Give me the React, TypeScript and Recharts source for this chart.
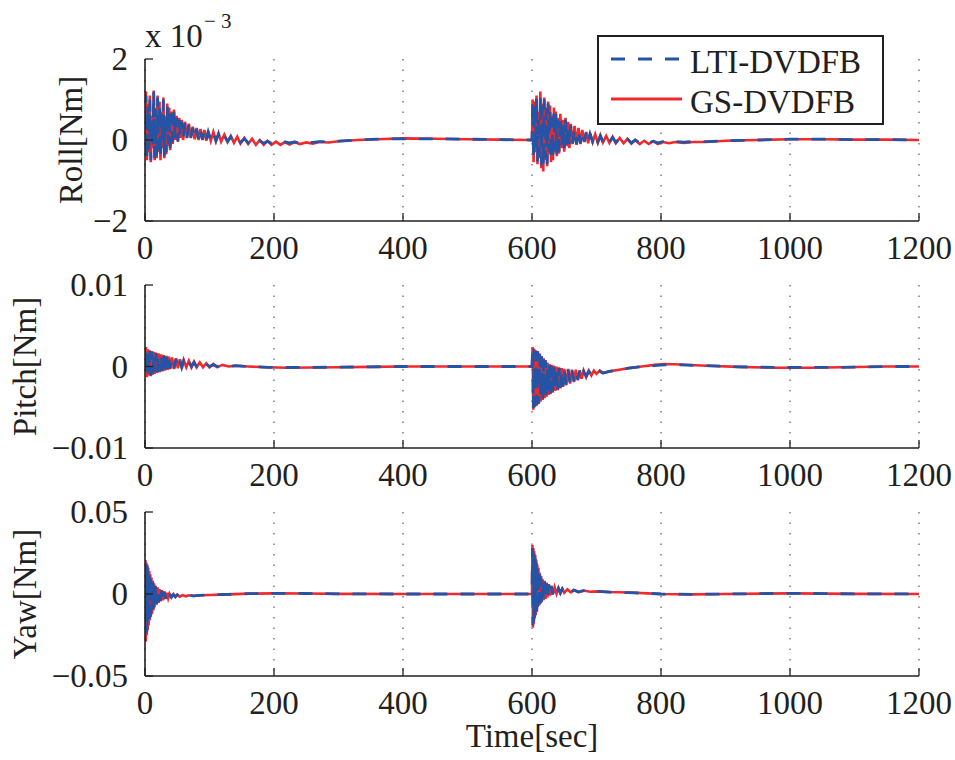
import React from 'react';
import { LineChart, Line, XAxis, YAxis, CartesianGrid, Legend } from 'recharts';

// ---------- data ----------
const seriesNames = ['LTI-DVDFB', 'GS-DVDFB'];
const timeTicks = [0, 200, 400, 600, 800, 1000, 1200];
const timeTickLabels = ['0', '200', '400', '600', '800', '1000', '1200'];

const rollTicks = [-2, 0, 2];
const rollTickLabels = ['\u22122', '0', '2'];
const pitchTicks = [-0.01, 0, 0.01];
const pitchTickLabels = ['\u22120.01', '0', '0.01'];
const yawTicks = [-0.05, 0, 0.05];
const yawTickLabels = ['\u22120.05', '0', '0.05'];

// Roll torque, units of 1e-3 Nm
const rollTime = [
  0, 1.5, 3, 4.5, 6, 7.5, 9, 10.5, 12, 13.5,
  15, 16.5, 18, 19.5, 21, 22.5, 24, 25.5, 27, 28.5,
  30, 31.5, 33, 34.5, 36, 37.5, 39, 41, 43, 45,
  47, 49, 51, 53, 55, 57, 59, 62, 65, 68,
  71, 74, 77, 80, 83, 86, 89, 92, 95, 98,
  102, 106, 110, 114, 118, 123, 128, 133, 138, 143,
  148, 154, 160, 166, 172, 178, 184, 190, 196, 203,
  210, 217, 224, 232, 240, 250, 260, 270, 285, 300,
  330, 360, 400, 450, 500, 550, 598,
  600, 601, 602.5, 604, 605.5, 607, 608.5, 610, 611.5, 613,
  614.5, 616, 617.5, 619, 620.5, 622, 623.5, 625, 626.5, 628,
  629.5, 631, 632.5, 634, 635.5, 637, 638.5, 640, 642, 644,
  646, 648, 650, 652, 654, 656, 658, 660, 663, 666,
  669, 672, 675, 678, 681, 684, 687, 690, 694, 698,
  702, 706, 710, 715, 720, 725, 730, 736, 742, 748,
  754, 760, 767, 774, 781, 788, 795, 803, 812, 822,
  835, 850, 870, 900, 950, 1000, 1050, 1100, 1150, 1200,
];
const rollGS = [
  0.3, 1.2, -0.5, 0.9, -0.3, 1.1, -0.55, 0.6, -0.2, 1.22,
  -0.5, 0.8, -0.45, 1.1, -0.3, 0.95, -0.5, 0.7, -0.2, 1.05,
  -0.45, 0.6, -0.35, 0.9, -0.15, 0.8, -0.25, 0.7, -0.1, 0.75,
  0.0, 0.6, -0.05, 0.55, 0.05, 0.5, 0.0, 0.45, 0.05, 0.4,
  0.05, 0.33, 0.02, 0.3, 0.0, 0.27, 0.0, 0.25, -0.02, 0.22,
  -0.02, 0.2, -0.03, 0.17, -0.04, 0.13, -0.05, 0.1, -0.07, 0.08,
  -0.09, 0.05, -0.1, 0.03, -0.12, 0.0, -0.12, -0.02, -0.12, -0.04,
  -0.12, -0.05, -0.11, -0.05, -0.1, -0.06, -0.09, -0.05, -0.06, -0.03,
  0.0, 0.02, 0.04, 0.03, 0.02, 0.01, 0.0,
  0.0, 1.0, -0.55, 0.95, -0.3, 1.1, -0.6, 0.7, -0.45, 1.2,
  -0.7, 0.9, -0.78, 1.05, -0.5, 0.8, -0.65, 0.95, -0.35, 0.85,
  -0.55, 0.6, -0.5, 0.8, -0.3, 0.7, -0.4, 0.55, -0.33, 0.65,
  -0.2, 0.5, -0.29, 0.55, -0.15, 0.45, -0.2, 0.4, -0.1, 0.35,
  -0.12, 0.3, -0.1, 0.25, -0.05, 0.2, -0.08, 0.17, -0.05, 0.14,
  -0.07, 0.12, -0.06, 0.1, -0.07, 0.08, -0.08, 0.05, -0.08, 0.03,
  -0.09, 0.0, -0.1, -0.02, -0.1, -0.03, -0.1, -0.05, -0.08, -0.05,
  -0.07, -0.05, -0.05, -0.02, 0.0, 0.02, 0.02, 0.01, 0.01, 0.0,
];
const rollLTI = [
  0.25, 1.1, -0.45, 0.85, -0.25, 1.0, -0.5, 0.55, -0.15, 1.2,
  -0.45, 0.75, -0.4, 1.05, -0.25, 0.9, -0.45, 0.65, -0.15, 1.0,
  -0.4, 0.55, -0.3, 0.85, -0.1, 0.75, -0.2, 0.65, -0.05, 0.7,
  0.02, 0.55, -0.02, 0.5, 0.06, 0.45, 0.02, 0.42, 0.06, 0.38,
  0.06, 0.3, 0.03, 0.27, 0.01, 0.25, 0.01, 0.22, -0.01, 0.2,
  -0.01, 0.17, -0.02, 0.14, -0.03, 0.1, -0.04, 0.08, -0.05, 0.06,
  -0.06, 0.03, -0.07, 0.01, -0.08, -0.02, -0.08, -0.03, -0.08, -0.05,
  -0.08, -0.05, -0.07, -0.05, -0.07, -0.05, -0.06, -0.04, -0.04, -0.03,
  0.0, 0.02, 0.03, 0.03, 0.02, 0.01, 0.0,
  0.0, 0.95, -0.5, 0.9, -0.25, 1.05, -0.55, 0.65, -0.4, 1.1,
  -0.62, 0.85, -0.66, 1.0, -0.45, 0.75, -0.6, 0.9, -0.3, 0.8,
  -0.5, 0.55, -0.45, 0.75, -0.25, 0.65, -0.35, 0.5, -0.28, 0.6,
  -0.17, 0.45, -0.25, 0.5, -0.12, 0.4, -0.17, 0.36, -0.08, 0.3,
  -0.1, 0.26, -0.08, 0.22, -0.04, 0.18, -0.06, 0.15, -0.04, 0.12,
  -0.05, 0.1, -0.05, 0.08, -0.05, 0.06, -0.06, 0.04, -0.06, 0.02,
  -0.07, 0.0, -0.07, -0.02, -0.07, -0.03, -0.07, -0.04, -0.06, -0.04,
  -0.05, -0.04, -0.04, -0.02, 0.0, 0.02, 0.02, 0.01, 0.01, 0.0,
];

// Pitch torque, Nm
const pitchTime = [
  0, 1.5, 3, 4.5, 6, 7.5, 9, 10.5, 12, 13.5,
  15, 17, 19, 21, 23, 25, 27, 29, 31, 33,
  35, 37, 39, 42, 45, 48, 51, 54, 57, 60,
  64, 68, 72, 76, 80, 85, 90, 95, 100, 106,
  112, 120, 130, 140, 160, 190, 220, 260, 300, 350,
  400, 500, 599,
  600, 601, 602, 603, 604.5, 606, 607.5, 609, 610.5, 612,
  613.5, 615, 616.5, 618, 619.5, 621, 622.5, 624, 625.5, 627,
  628.5, 630, 632, 634, 636, 638, 640, 642, 644, 646,
  648, 650, 653, 656, 659, 662, 665, 668, 671, 674,
  677, 680, 684, 688, 692, 696, 700, 705, 710, 720,
  735, 750, 770, 790, 805, 830, 870, 920, 980, 1030,
  1080, 1150, 1200,
];
const pitchGS = [
  0.0, 0.0024, -0.0013, 0.0021, -0.0011, 0.002, -0.0012, 0.0019, -0.001, 0.0018,
  -0.0009, 0.0017, -0.0008, 0.0016, -0.0007, 0.0015, -0.0006, 0.0014, -0.0005, 0.0013,
  -0.0004, 0.0012, -0.0003, 0.0011, -0.0003, 0.001, -0.0002, 0.0009, -0.0002, 0.0008,
  -0.0001, 0.0007, -0.0001, 0.0006, -0.0001, 0.0005, -0.0001, 0.0004, -0.0001, 0.0003,
  -0.0001, 0.0002, 0.0, 0.0001, 0.0, -0.0001, -0.00015, -0.00012, -0.0001, -0.00005,
  0.0, 0.0, 0.0,
  0.0, 0.0024, -0.0053, 0.0022, -0.005, 0.002, -0.0048, 0.0019, -0.0046, 0.0016,
  -0.0043, 0.0013, -0.0041, 0.001, -0.0039, 0.0008, -0.0037, 0.0005, -0.0035, 0.0003,
  -0.0034, 0.0002, -0.0032, 0.0001, -0.003, 0.0, -0.0029, -0.0001, -0.0027, -0.0002,
  -0.0025, -0.0003, -0.0023, -0.0003, -0.0021, -0.0004, -0.0019, -0.0004, -0.0017, -0.0005,
  -0.0015, -0.0005, -0.0013, -0.0005, -0.0011, -0.0005, -0.0009, -0.0005, -0.0008, -0.0006,
  -0.0004, -0.0002, 0.0, 0.0002, 0.0003, 0.00025, 0.0001, -0.00005, -0.00015, -0.00015,
  -0.0001, 0.0, 0.0,
];
const pitchLTI = [
  0.0, 0.0022, -0.0012, 0.002, -0.001, 0.0019, -0.0011, 0.0018, -0.0009, 0.0017,
  -0.0008, 0.0016, -0.0007, 0.0015, -0.0006, 0.0014, -0.0005, 0.0013, -0.0004, 0.0012,
  -0.0003, 0.0011, -0.0002, 0.001, -0.0002, 0.0009, -0.0001, 0.0008, -0.0001, 0.0007,
  0.0, 0.0006, 0.0, 0.0005, 0.0, 0.0004, 0.0, 0.0003, 0.0, 0.0002,
  0.0, 0.0001, 0.0, 0.0001, 0.0, -0.0001, -0.00012, -0.0001, -0.00008, -0.00004,
  0.0, 0.0, 0.0,
  0.0, 0.0023, -0.0051, 0.0021, -0.0049, 0.0019, -0.0047, 0.0018, -0.0045, 0.0015,
  -0.0042, 0.0012, -0.004, 0.0009, -0.0038, 0.0007, -0.0036, 0.0004, -0.0034, 0.0002,
  -0.0033, 0.0001, -0.0031, 0.0, -0.0029, -0.0001, -0.0028, -0.0002, -0.0026, -0.0003,
  -0.0024, -0.0004, -0.0022, -0.0004, -0.002, -0.0005, -0.0018, -0.0005, -0.0016, -0.0005,
  -0.0014, -0.0006, -0.0012, -0.0006, -0.001, -0.0006, -0.0009, -0.0006, -0.0008, -0.0006,
  -0.0004, -0.0002, 0.0, 0.0001, 0.0002, 0.0002, 0.0001, -0.00005, -0.0001, -0.0001,
  -0.0001, 0.0, 0.0,
];

// Yaw torque, Nm
const yawTime = [
  0, 0.7, 1.4, 2.1, 2.8, 3.5, 4.2, 5, 5.8, 6.6,
  7.4, 8.2, 9, 10, 11, 12, 13, 14, 15, 16.5,
  18, 19.5, 21, 22.5, 24, 26, 28, 30, 32, 34,
  36, 38, 41, 44, 47, 50, 54, 58, 63, 68,
  75, 85, 100, 130, 160, 200, 250, 300, 400, 599,
  600, 600.7, 601.4, 602.1, 602.8, 603.5, 604.2, 605, 605.8, 606.6,
  607.4, 608.2, 609, 610, 611, 612, 613, 614, 615, 616.5,
  618, 619.5, 621, 622.5, 624, 626, 628, 630, 632, 635,
  638, 641, 644, 647, 650, 655, 660, 665, 672, 680,
  690, 700, 720, 750, 780, 800, 850, 900, 1000, 1100,
  1200,
];
const yawGS = [
  0.0, 0.0207, -0.029, 0.019, -0.025, 0.018, -0.022, 0.016, -0.019, 0.014,
  -0.016, 0.012, -0.014, 0.01, -0.012, 0.008, -0.01, 0.0065, -0.008, 0.005,
  -0.0065, 0.004, -0.0055, 0.003, -0.0045, 0.0024, -0.0038, 0.0015, -0.003, 0.0008,
  -0.0025, 0.0002, -0.002, -0.0002, -0.0018, -0.0005, -0.0016, -0.0007, -0.0014, -0.0008,
  -0.0012, -0.0008, -0.0006, -0.0002, 0.0002, 0.0004, 0.0003, 0.0001, 0.0, 0.0,
  0.0, 0.0299, -0.0205, 0.028, -0.018, 0.026, -0.015, 0.024, -0.013, 0.021,
  -0.011, 0.018, -0.008, 0.016, -0.007, 0.013, -0.006, 0.011, -0.005, 0.009,
  -0.0037, 0.008, -0.003, 0.007, -0.002, 0.006, -0.001, 0.005, -0.0003, 0.0042,
  0.0002, 0.0036, 0.0006, 0.0032, 0.0008, 0.0028, 0.001, 0.0025, 0.0012, 0.0021,
  0.0014, 0.0016, 0.0012, 0.0009, 0.0004, 0.0, -0.0002, 0.0, 0.0004, 0.0001,
  0.0,
];
const yawLTI = [
  0.0, 0.019, -0.026, 0.018, -0.023, 0.017, -0.02, 0.015, -0.017, 0.013,
  -0.015, 0.011, -0.013, 0.009, -0.011, 0.0075, -0.009, 0.006, -0.0075, 0.0045,
  -0.006, 0.0035, -0.005, 0.0028, -0.0042, 0.0022, -0.0035, 0.0014, -0.0028, 0.0007,
  -0.0023, 0.0001, -0.0019, -0.0003, -0.0017, -0.0005, -0.0015, -0.0007, -0.0013, -0.0008,
  -0.0011, -0.0008, -0.0006, -0.0002, 0.0002, 0.0004, 0.0003, 0.0001, 0.0, 0.0,
  0.0, 0.028, -0.019, 0.026, -0.017, 0.024, -0.014, 0.022, -0.012, 0.019,
  -0.01, 0.017, -0.0075, 0.015, -0.0065, 0.012, -0.0055, 0.01, -0.0045, 0.0085,
  -0.0033, 0.0075, -0.0027, 0.0065, -0.0018, 0.0057, -0.0008, 0.0047, -0.0002, 0.004,
  0.0003, 0.0035, 0.0006, 0.0031, 0.0008, 0.0027, 0.001, 0.0024, 0.0012, 0.002,
  0.0013, 0.0016, 0.0012, 0.0008, 0.0004, 0.0, -0.0002, 0.0, 0.0004, 0.0001,
  0.0,
];

// ---------- styling ----------
const FONT = '"Liberation Serif", "Times New Roman", Times, serif';
const INK = '#231f20';
const BLUE = '#2553a5';
const RED = '#ee2a2e';
const FS = 33;

const toRows = (time: number[], lti: number[], gs: number[]) => {
  const n = Math.min(time.length, lti.length, gs.length);
  return time.slice(0, n).map((t, i) => ({ t, lti: lti[i], gs: gs[i] }));
};

const rollData = toRows(rollTime, rollLTI, rollGS);
const pitchData = toRows(pitchTime, pitchLTI, pitchGS);
const yawData = toRows(yawTime, yawLTI, yawGS);

const seriesStyle: Record<string, { color: string; dash?: string }> = {
  'LTI-DVDFB': { color: BLUE, dash: '14 13' },
  'GS-DVDFB': { color: RED },
};

const renderLegend = (props: any) => {
  const payload: any[] = props.payload || [];
  const ordered = seriesNames.map(
    (name) => payload.find((p) => p.value === name) || { value: name, color: seriesStyle[name].color }
  );
  return (
    <div
      style={{
        width: 287,
        height: 90,
        border: `2px solid ${INK}`,
        background: '#fff',
        boxSizing: 'border-box',
      }}
    >
      <svg width={283} height={86} style={{ display: 'block' }}>
        {ordered.map((entry, i) => {
          const rowY = i === 0 ? 22 : 62;
          const st = seriesStyle[entry.value];
          return (
            <g key={entry.value}>
              <line
                x1={12}
                x2={83}
                y1={rowY}
                y2={rowY}
                stroke={st.color}
                strokeWidth={2.8}
                strokeDasharray={st.dash}
              />
              <text x={91} y={rowY + 14} fontSize={FS} fontFamily={FONT} fill={INK}>
                {entry.value}
              </text>
            </g>
          );
        })}
      </svg>
    </div>
  );
};

const makeXTick = (ticks: number[], labels: string[]) => (props: any) => {
  const { x, y, payload } = props;
  const idx = ticks.indexOf(payload.value);
  const label = idx >= 0 ? labels[idx] : String(payload.value);
  return (
    <text x={x} y={y} dy="0.71em" textAnchor="middle" fontSize={FS} fontFamily={FONT} fill={INK}>
      {label}
    </text>
  );
};

const makeYTick = (ticks: number[], labels: string[]) => (props: any) => {
  const { x, y, payload } = props;
  const idx = ticks.indexOf(payload.value);
  const label = idx >= 0 ? labels[idx] : String(payload.value);
  return (
    <text x={x} y={y} dy="0.34em" textAnchor="end" fontSize={FS} fontFamily={FONT} fill={INK}>
      {label}
    </text>
  );
};

const makeYLabel = (name: string, baselineX: number, exponent: boolean) => (props: any) => {
  const vb = props.viewBox || { x: 0, y: 0, width: 0, height: 0 };
  const cy = vb.y + vb.height / 2;
  return (
    <g>
      <text
        x={baselineX}
        y={cy}
        transform={`rotate(-90 ${baselineX} ${cy})`}
        textAnchor="middle"
        fontSize={FS}
        fontFamily={FONT}
        fill={INK}
      >
        {name}
      </text>
      {exponent && (
        <g>
          <text x={145} y={47} fontSize={FS} fontFamily={FONT} fill={INK}>
            x 10
          </text>
          <text x={204} y={28} fontSize={21} fontFamily={FONT} fill={INK}>
            {'\u2212 3'}
          </text>
        </g>
      )}
    </g>
  );
};

type PanelProps = {
  top: number;
  height: number;
  marginTop: number;
  xAxisHeight: number;
  data: any[];
  yDomain: [number, number];
  yTicks: number[];
  yTickLabels: string[];
  yName: string;
  yLabelX: number;
  exponent?: boolean;
  legend?: boolean;
  xLabel?: string;
};

function Panel(p: PanelProps) {
  const axisLine = { stroke: INK, strokeWidth: 1.6 };
  const tickLine = { stroke: INK, strokeWidth: 1.3 };
  return (
    <div style={{ position: 'absolute', left: 0, top: p.top }}>
      <LineChart
        width={955}
        height={p.height}
        data={p.data}
        margin={{ top: p.marginTop, right: 36, bottom: 0, left: 0 }}
        style={{ fontFamily: FONT }}
      >
        <CartesianGrid horizontal={false} vertical stroke="#3a3a3a" strokeWidth={1} strokeDasharray="1.5 9" />
        <XAxis
          dataKey="t"
          type="number"
          domain={[0, 1200]}
          ticks={timeTicks}
          interval={0}
          allowDataOverflow
          height={p.xAxisHeight}
          tickSize={-8}
          tickMargin={23}
          tick={makeXTick(timeTicks, timeTickLabels)}
          axisLine={axisLine}
          tickLine={tickLine}
          label={
            p.xLabel
              ? { value: p.xLabel, position: 'insideBottom', offset: 13, fontSize: FS, fill: INK, fontFamily: FONT }
              : undefined
          }
        />
        <XAxis
          xAxisId="top"
          orientation="top"
          dataKey="t"
          type="number"
          domain={[0, 1200]}
          ticks={timeTicks}
          interval={0}
          height={0}
          tickSize={-8}
          tick={false}
          axisLine={axisLine}
          tickLine={tickLine}
        />
        <YAxis
          type="number"
          domain={p.yDomain}
          ticks={p.yTicks}
          interval={0}
          allowDataOverflow
          width={145}
          tickSize={-8}
          tickMargin={25}
          tick={makeYTick(p.yTicks, p.yTickLabels)}
          axisLine={axisLine}
          tickLine={tickLine}
          label={makeYLabel(p.yName, p.yLabelX, !!p.exponent)}
        />
        <YAxis
          yAxisId="right"
          orientation="right"
          type="number"
          domain={p.yDomain}
          ticks={p.yTicks}
          interval={0}
          width={0}
          tickSize={-8}
          tick={false}
          axisLine={axisLine}
          tickLine={tickLine}
        />
        <Line
          type="linear"
          dataKey="gs"
          name={seriesNames[1]}
          stroke={RED}
          strokeWidth={2.6}
          dot={false}
          activeDot={false}
          isAnimationActive={false}
        />
        <Line
          type="linear"
          dataKey="lti"
          name={seriesNames[0]}
          stroke={BLUE}
          strokeWidth={2.8}
          strokeDasharray="14 13"
          dot={false}
          activeDot={false}
          isAnimationActive={false}
        />
        {p.legend && (
          <Legend
            layout="vertical"
            align="center"
            verticalAlign="middle"
            content={renderLegend}
            wrapperStyle={{ left: 597, top: 35, width: 287, height: 90 }}
          />
        )}
      </LineChart>
    </div>
  );
}

export default function App() {
  return (
    <div
      style={{
        position: 'absolute',
        left: 0,
        top: 0,
        width: 955,
        height: 760,
        background: '#fff',
        overflow: 'hidden',
      }}
    >
      <Panel
        top={0}
        height={275}
        marginTop={59}
        xAxisHeight={54}
        data={rollData}
        yDomain={[-2, 2]}
        yTicks={rollTicks}
        yTickLabels={rollTickLabels}
        yName="Roll[Nm]"
        yLabelX={82}
        exponent
        legend
      />
      <Panel
        top={260}
        height={245}
        marginTop={25}
        xAxisHeight={57}
        data={pitchData}
        yDomain={[-0.01, 0.01]}
        yTicks={pitchTicks}
        yTickLabels={pitchTickLabels}
        yName="Pitch[Nm]"
        yLabelX={36}
      />
      <Panel
        top={490}
        height={270}
        marginTop={22}
        xAxisHeight={84}
        data={yawData}
        yDomain={[-0.05, 0.05]}
        yTicks={yawTicks}
        yTickLabels={yawTickLabels}
        yName="Yaw[Nm]"
        yLabelX={36}
        xLabel="Time[sec]"
      />
    </div>
  );
}
